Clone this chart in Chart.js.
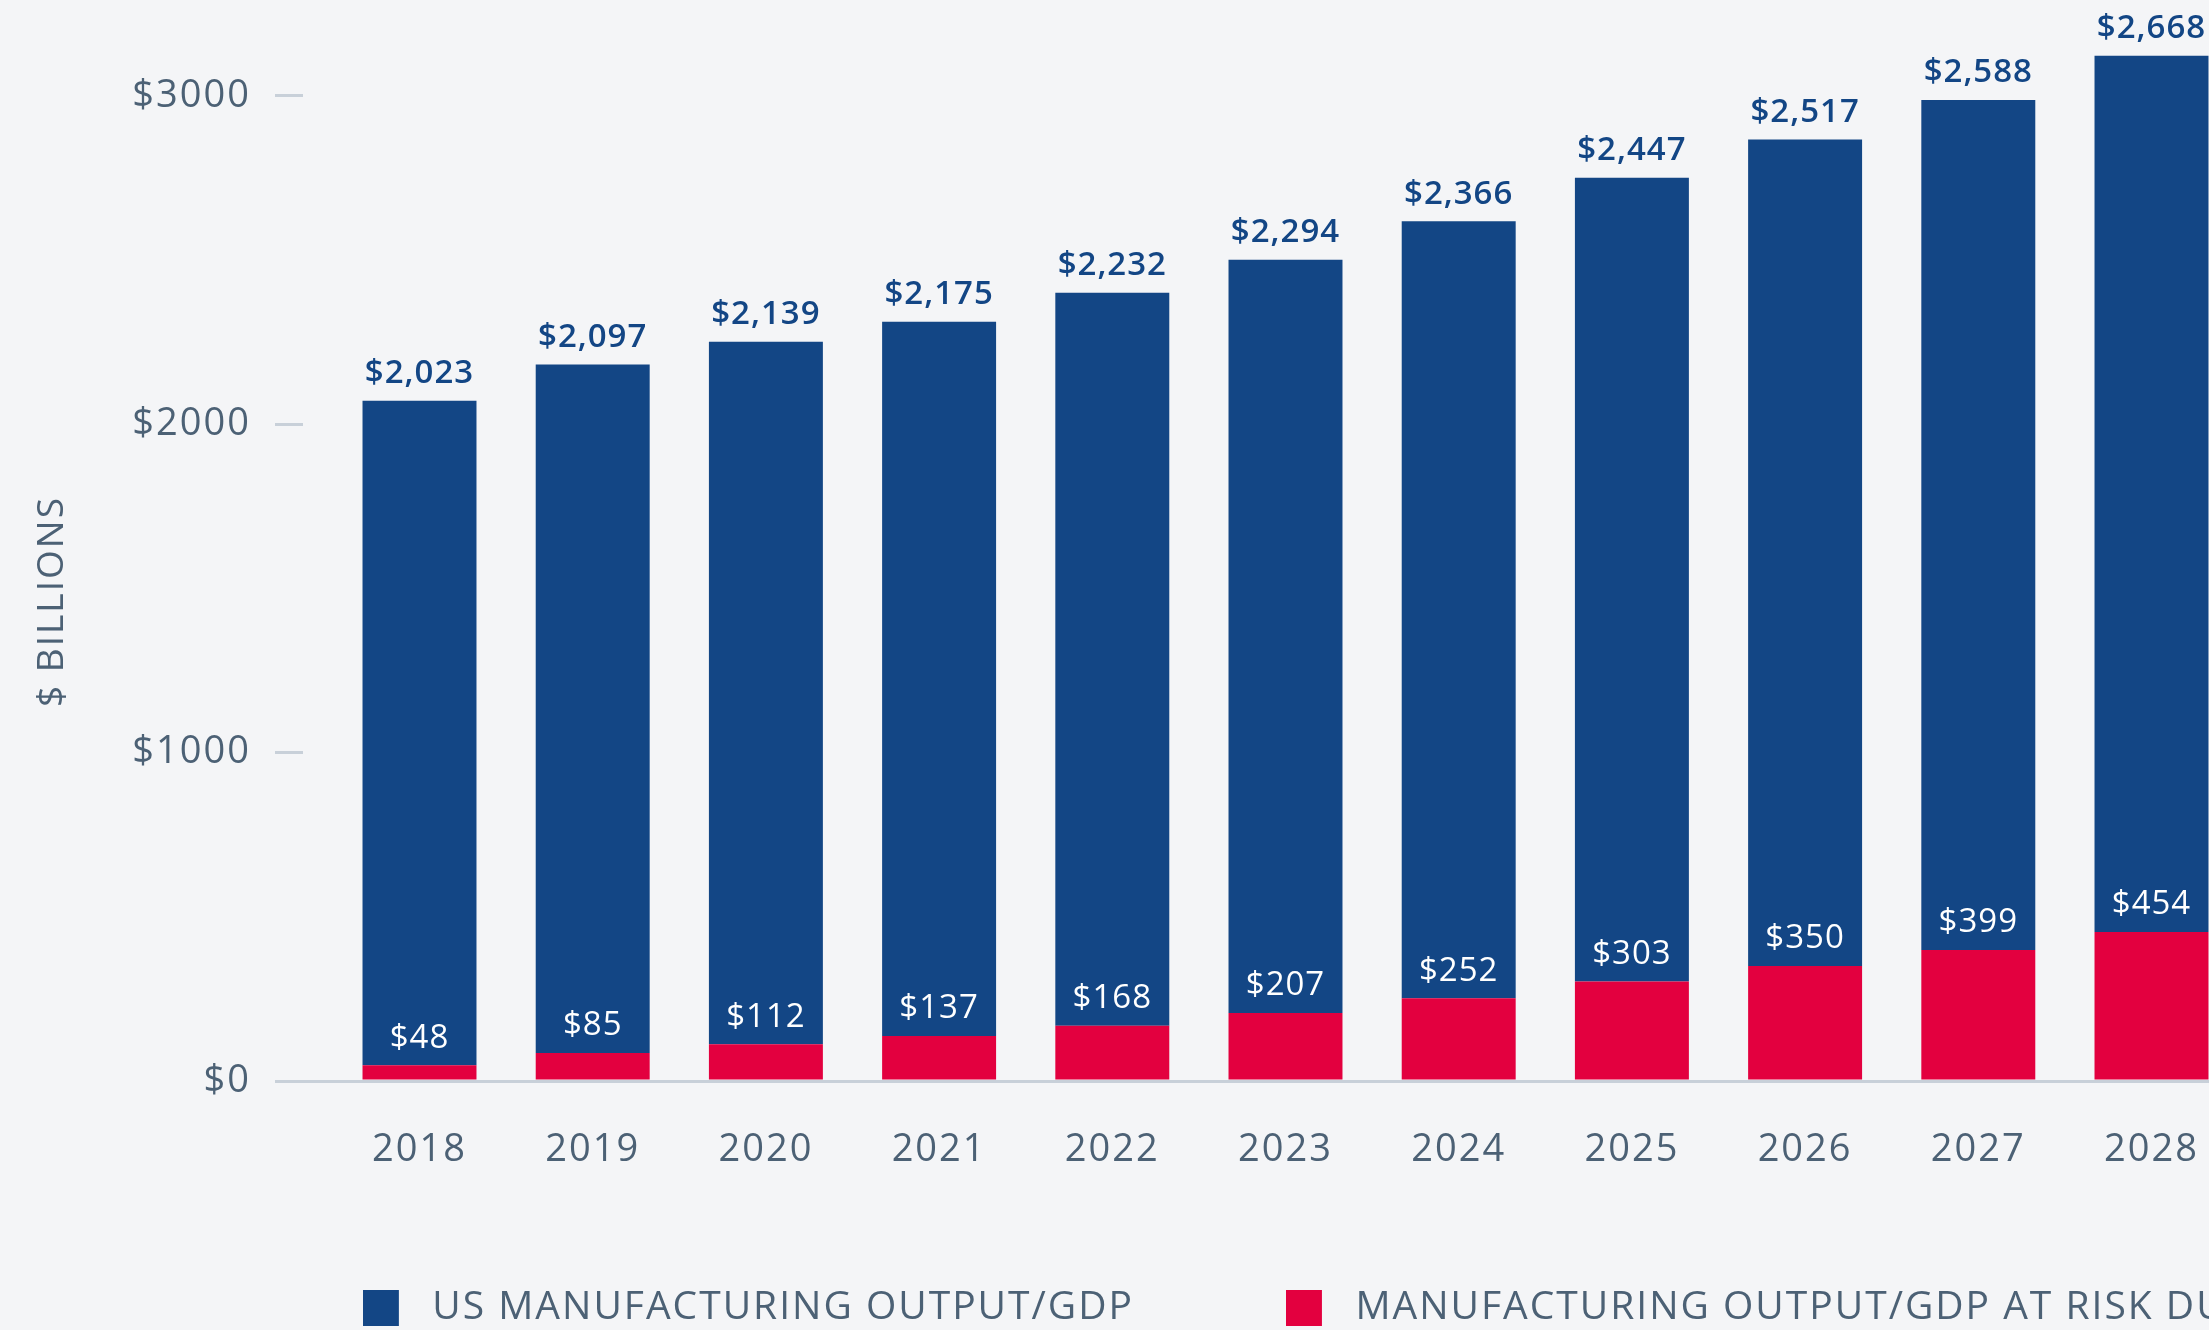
<!DOCTYPE html>
<html>
<head>
<meta charset="utf-8">
<title>US manufacturing output and output at risk</title>
<script src="https://cdn.jsdelivr.net/npm/chart.js@4.4.1/dist/chart.umd.min.js"></script>
<style>
  html, body { margin: 0; padding: 0; background: #f4f5f7; overflow: hidden; }
  canvas { display: block; }
</style>
</head>
<body>
<canvas id="chart"></canvas>
<script>
// ---- data ($ billions) ----
const YEARS = [2018, 2019, 2020, 2021, 2022, 2023, 2024, 2025, 2026, 2027, 2028];
const US_OUTPUT = [2023, 2097, 2139, 2175, 2232, 2294, 2366, 2447, 2517, 2588, 2668];
const AT_RISK = [48, 85, 112, 137, 168, 207, 252, 303, 350, 399, 454];
const SERIES_NAMES = ['US MANUFACTURING OUTPUT/GDP', 'MANUFACTURING OUTPUT/GDP AT RISK DUE TO SKILLS GAP'];
const Y_TICKS = [0, 1000, 2000, 3000];
const Y_TITLE = '$ BILLIONS';

// ---- styling ----
const FONT = '"Open Sans", "Noto Sans", sans-serif';
const TEXT_WEIGHT = 500;
const TRACKING = '2px';
const BLUE = '#134685';
const RED = '#e3003f';
const GRAY = '#4c6175';
const RULE = '#c8d0d9';

const CANVAS_H = 1337;
const LEGEND_FONT_SIZE = 39;
const LEGEND_GAP = 152;
const LEGEND_LEFT = 363;
const SWATCH = 36;
const SWATCH_SLOT = 50;
const PLOT_LEFT = 303;
const YEAR_PX = 173.2;
const FIRST_BAR_X = 419.5;

// canvas is sized so the centred legend row starts at LEGEND_LEFT
const probe = document.createElement('canvas').getContext('2d');
probe.font = TEXT_WEIGHT + ' ' + LEGEND_FONT_SIZE + 'px ' + FONT;
probe.letterSpacing = TRACKING;
const itemWidths = SERIES_NAMES.map(t => SWATCH_SLOT + LEGEND_FONT_SIZE / 2 + probe.measureText(t).width);
const CANVAS_W = Math.round(2 * LEGEND_LEFT + itemWidths[0] + itemWidths[1] + LEGEND_GAP);

const X_MIN = YEARS[0] - (FIRST_BAR_X - PLOT_LEFT) / YEAR_PX;
const X_MAX = X_MIN + (CANVAS_W - PLOT_LEFT) / YEAR_PX;

function swatch(color) {
  const c = document.createElement('canvas');
  c.width = SWATCH_SLOT;
  c.height = SWATCH;
  const g = c.getContext('2d');
  g.fillStyle = color;
  g.fillRect(0, 0, SWATCH, SWATCH);
  return c;
}

// wider tracking for all chart text (the canvas state is reset on resize)
const tracking = {
  id: 'tracking',
  beforeUpdate(chart) { chart.ctx.letterSpacing = TRACKING; },
  beforeDraw(chart) { chart.ctx.letterSpacing = TRACKING; }
};

// let the year labels hang below the slim x-axis box without being clipped
const yearLabelRoom = {
  id: 'yearLabelRoom',
  afterLayout(chart) { chart.scales.x.bottom = chart.height; }
};

// value labels sitting just above the top of each segment
const LABEL_STYLE = [
  { color: '#ffffff', font: '500 33px ' + FONT },
  { color: BLUE, font: '600 33px ' + FONT }
];
const valueLabels = {
  id: 'valueLabels',
  afterDatasetsDraw(chart) {
    const ctx = chart.ctx;
    chart.data.datasets.forEach((ds, i) => {
      const meta = chart.getDatasetMeta(i);
      const st = LABEL_STYLE[i];
      ctx.save();
      ctx.font = st.font;
      ctx.letterSpacing = '1px';
      ctx.fillStyle = st.color;
      ctx.textAlign = 'center';
      ctx.textBaseline = 'middle';
      meta.data.forEach((bar, j) => {
        ctx.fillText('$' + ds.data[j].toLocaleString('en-US'), bar.x, bar.y - 27);
      });
      ctx.restore();
    });
  }
};

// rotated axis caption
const axisCaption = {
  id: 'axisCaption',
  afterDraw(chart) {
    const ctx = chart.ctx;
    ctx.save();
    ctx.translate(52.5, 601.5);
    ctx.rotate(-Math.PI / 2);
    ctx.font = TEXT_WEIGHT + ' 37px ' + FONT;
    ctx.letterSpacing = TRACKING;
    ctx.fillStyle = GRAY;
    ctx.textAlign = 'center';
    ctx.textBaseline = 'middle';
    ctx.fillText(Y_TITLE, 0, 0);
    ctx.restore();
  }
};

const canvas = document.getElementById('chart');
canvas.width = CANVAS_W;
canvas.height = CANVAS_H;
canvas.style.width = CANVAS_W + 'px';
canvas.style.height = CANVAS_H + 'px';

new Chart(canvas, {
  type: 'bar',
  data: {
    labels: YEARS,
    datasets: [
      { label: SERIES_NAMES[1], data: AT_RISK, backgroundColor: RED, borderWidth: 0 },
      { label: SERIES_NAMES[0], data: US_OUTPUT, backgroundColor: BLUE, borderWidth: 0 }
    ]
  },
  options: {
    responsive: false,
    animation: false,
    devicePixelRatio: 1,
    layout: { padding: { top: 12, left: 0, right: 0, bottom: 0 } },
    datasets: { bar: { categoryPercentage: 0.658, barPercentage: 1 } },
    scales: {
      x: {
        type: 'linear',
        stacked: true,
        offset: false,
        min: X_MIN,
        max: X_MAX,
        afterBuildTicks: s => { s.ticks = YEARS.map(v => ({ value: v })); },
        afterFit: s => { s.height = 55; s.paddingLeft = 0; s.paddingRight = 0; },
        grid: { display: false, drawTicks: false },
        border: { display: false },
        ticks: {
          autoSkip: false,
          maxRotation: 0,
          padding: 46,
          color: GRAY,
          font: { family: FONT, size: 38, weight: TEXT_WEIGHT },
          callback: v => String(v)
        }
      },
      y: {
        stacked: true,
        min: 0,
        max: 3255,
        afterBuildTicks: s => { s.ticks = Y_TICKS.map(v => ({ value: v })); },
        afterFit: s => { s.width = PLOT_LEFT; s.paddingTop = 0; s.paddingBottom = 0; },
        border: { display: false },
        grid: {
          color: c => (c.tick && c.tick.value === 0 ? RULE : 'rgba(0,0,0,0)'),
          tickColor: RULE,
          lineWidth: 3,
          tickLength: 28
        },
        ticks: {
          padding: 24,
          color: GRAY,
          font: { family: FONT, size: 38, weight: TEXT_WEIGHT },
          callback: v => '$' + v
        }
      }
    },
    plugins: {
      tooltip: { enabled: false },
      legend: {
        position: 'bottom',
        reverse: true,
        labels: {
          usePointStyle: true,
          pointStyleWidth: SWATCH_SLOT,
          boxHeight: SWATCH,
          padding: LEGEND_GAP,
          color: GRAY,
          font: { family: FONT, size: LEGEND_FONT_SIZE, weight: TEXT_WEIGHT },
          generateLabels: chart =>
            Chart.defaults.plugins.legend.labels.generateLabels(chart)
              .map(item => Object.assign({}, item, { pointStyle: swatch(item.fillStyle) }))
        }
      }
    }
  },
  plugins: [tracking, yearLabelRoom, valueLabels, axisCaption]
});
</script>
</body>
</html>
